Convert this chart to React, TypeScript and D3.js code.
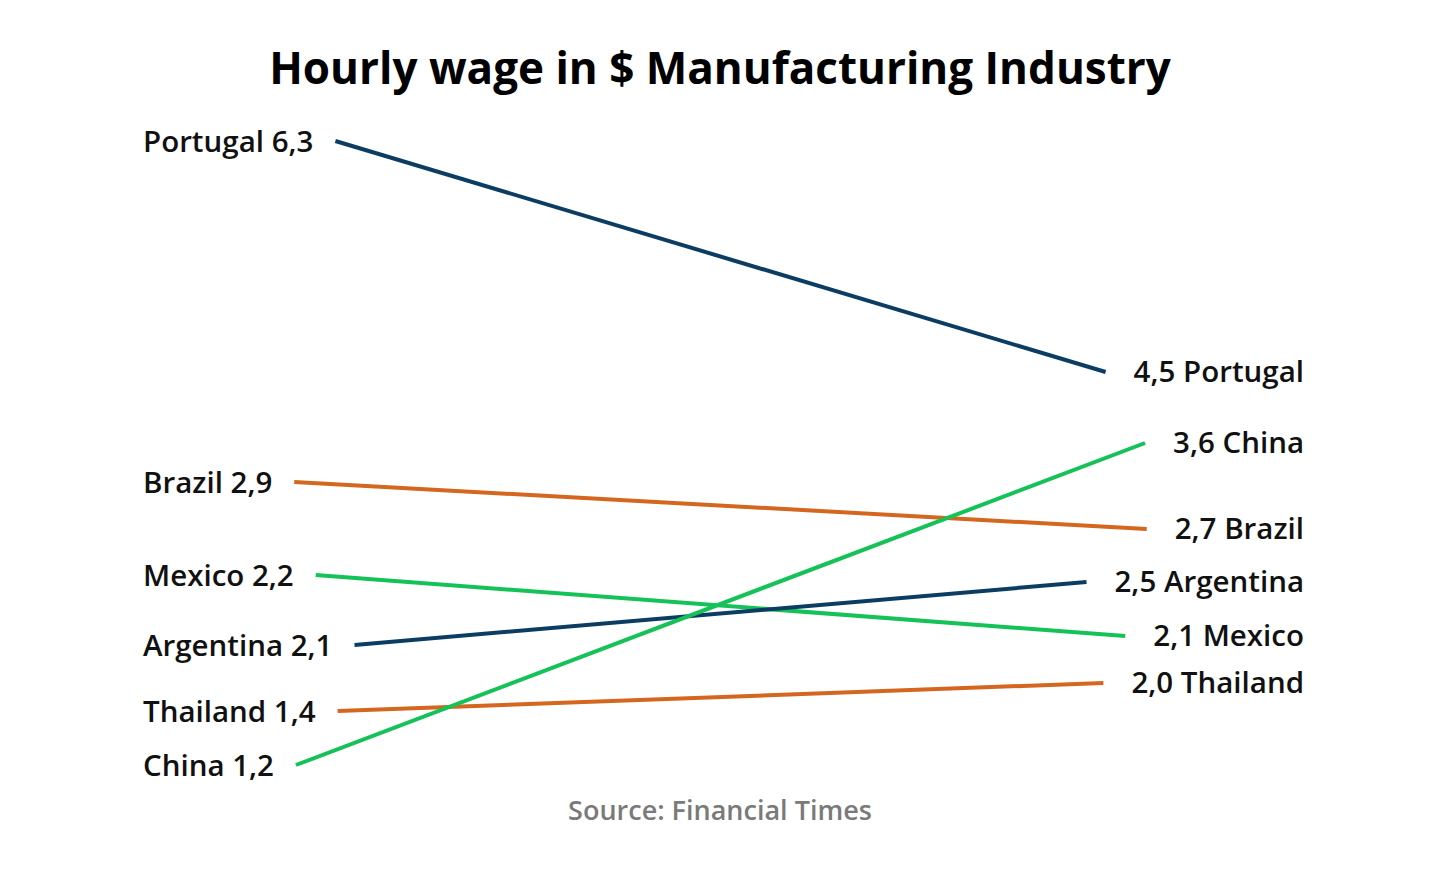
import React, { useEffect, useRef } from 'react';
import * as d3 from 'd3';

const countries = ['Portugal', 'Brazil', 'Mexico', 'Argentina', 'Thailand', 'China'];
const wageBefore = [6.3, 2.9, 2.2, 2.1, 1.4, 1.2];
const wageAfter = [4.5, 2.7, 2.1, 2.5, 2.0, 3.6];
const lineColors = ['#0b3d63', '#d4661f', '#15c258', '#0b3d63', '#d4661f', '#15c258'];

const title = 'Hourly wage in $ Manufacturing Industry';
const source = 'Source: Financial Times';

const fmt = d3.formatLocale({ decimal: ',', thousands: '.', grouping: [3], currency: ['', '$'] }).format('.1f');

const SlopeChart: React.FC = () => {
  const svgRef = useRef<SVGSVGElement | null>(null);

  useEffect(() => {
    const width = 1440;
    const height = 870;
    const leftX = 143;
    const rightX = 1304;

    // label positions are spread by hand in the original, so the scales are piecewise
    const yLeft = d3
      .scaleLinear()
      .domain([1.2, 1.4, 2.1, 2.2, 2.9, 6.3])
      .range([765, 711, 645, 575, 482, 141]);
    const yRight = d3
      .scaleLinear()
      .domain([2.0, 2.1, 2.5, 2.7, 3.6, 4.5])
      .range([683, 636, 582, 529, 443, 372]);

    const svg = d3.select(svgRef.current);
    svg.selectAll('*').remove();
    svg.attr('width', width).attr('height', height).style('font-family', '"Open Sans", sans-serif');

    svg
      .append('text')
      .attr('x', width / 2)
      .attr('y', 84)
      .attr('text-anchor', 'middle')
      .attr('font-size', 44)
      .attr('font-weight', 700)
      .attr('fill', '#000')
      .text(title);

    const rows = countries.map((c, i) => ({
      name: c,
      before: wageBefore[i],
      after: wageAfter[i],
      color: lineColors[i],
    }));

    const gLines = svg.append('g').attr('fill', 'none').attr('stroke-width', 4);
    const gLabels = svg.append('g').attr('font-size', 29.5).attr('font-weight', 600).attr('fill', '#111');

    rows.forEach((d) => {
      const lt = gLabels
        .append('text')
        .attr('x', leftX)
        .attr('y', yLeft(d.before))
        .attr('dy', '0.38em')
        .text(`${d.name} ${fmt(d.before)}`);
      const rt = gLabels
        .append('text')
        .attr('x', rightX)
        .attr('y', yRight(d.after))
        .attr('dy', '0.33em')
        .attr('text-anchor', 'end')
        .text(`${fmt(d.after)} ${d.name}`);

      const lw = (lt.node() as SVGTextElement).getComputedTextLength();
      const rw = (rt.node() as SVGTextElement).getComputedTextLength();
      const x0 = leftX + lw + 22;
      const x1 = rightX - rw - 28;

      gLines
        .append('path')
        .attr('stroke', d.color)
        .attr(
          'd',
          d3.line()([
            [x0, yLeft(d.before)],
            [x1, yRight(d.after)],
          ])
        );
    });

    svg
      .append('text')
      .attr('x', width / 2)
      .attr('y', 820)
      .attr('text-anchor', 'middle')
      .attr('font-size', 27)
      .attr('font-weight', 600)
      .attr('fill', '#7a7a7a')
      .text(source);
  }, []);

  return <svg ref={svgRef} style={{ position: 'absolute', left: 0, top: 0, background: '#fff' }} />;
};

export default function App() {
  return <SlopeChart />;
}
